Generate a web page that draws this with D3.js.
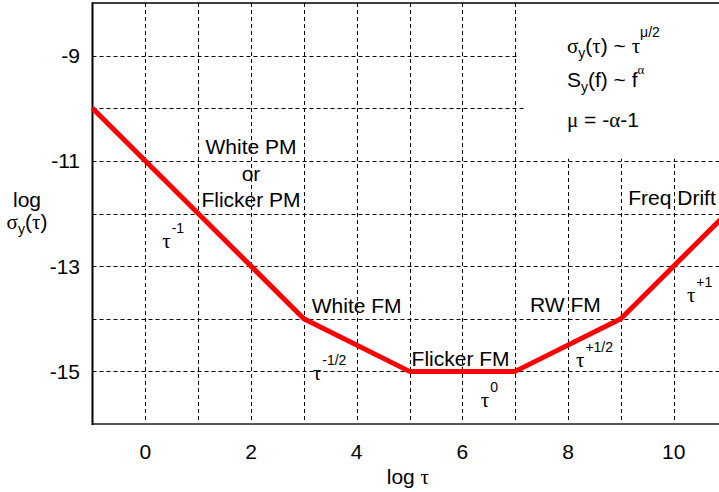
<!DOCTYPE html>
<html><head><meta charset="utf-8">
<script src="https://cdn.jsdelivr.net/npm/d3@7"></script>
<style>
html,body{margin:0;padding:0;background:#fff;}
svg{display:block;}
text{font-family:"Liberation Sans",Arial,sans-serif;fill:#000;}
.g{font-family:"Liberation Serif","Times New Roman",serif;}
</style></head>
<body>
<svg id="c" width="719" height="492"></svg>
<script>
// ---- data ----
const logTau   = [-1, 1, 3, 5, 7, 9, 11];
const logSigma = [-10, -12, -14, -15, -15, -14, -12];
const xTickLabels = [0, 2, 4, 6, 8, 10];
const yTickLabels = [-9, -11, -13, -15];
const xGrid = [0, 1, 2, 3, 4, 5, 6, 7, 8, 9, 10];
const yGrid = [-9, -10, -11, -12, -13, -14, -15];
const regionLabels = [
  {x: 2,     y: -10.87, text: "White PM", anchor: "middle"},
  {x: 2,     y: -11.38, text: "or",       anchor: "middle"},
  {x: 2,     y: -11.88, text: "Flicker PM", anchor: "middle"},
  {x: 3.15,  y: -13.90, text: "White FM", anchor: "start"},
  {x: 5.04,  y: -14.89, text: "Flicker FM", anchor: "start"},
  {x: 7.28,  y: -13.87, text: "RW FM", anchor: "start"},
  {x: 9.14,  y: -11.84, text: "Freq Drift", anchor: "start"}
];
const slopeLabels = [
  {x: 0.32, y: -12.66, exp: "-1"},
  {x: 3.17, y: -15.16, exp: "-1/2"},
  {x: 6.35, y: -15.67, exp: "0"},
  {x: 8.15, y: -14.91, exp: "+1/2"},
  {x: 10.25, y: -13.68, exp: "+1"}
];

// ---- chart ----
const svg = d3.select("#c");
const x = d3.scaleLinear().domain([-1, 11]).range([92.5, 726.5]);
const y = d3.scaleLinear().domain([-16, -8]).range([424, 3]);

const grid = svg.append("g").attr("stroke", "#000").attr("stroke-width", 1)
  .attr("stroke-dasharray", "4,3").attr("fill", "none");
grid.selectAll("line.v").data(xGrid).join("line").attr("class", "v")
  .attr("x1", d => Math.round(x(d)) + 0.5).attr("x2", d => Math.round(x(d)) + 0.5)
  .attr("y1", y(-8)).attr("y2", y(-16));
grid.selectAll("line.h").data(yGrid).join("line").attr("class", "h")
  .attr("y1", d => Math.round(y(d)) + 0.5).attr("y2", d => Math.round(y(d)) + 0.5)
  .attr("x1", x(-1)).attr("x2", x(11));

// white box behind formula annotation
svg.append("rect").attr("x", x(7.08)).attr("y", y(-8))
  .attr("width", x(11) - x(7.08)).attr("height", y(-9.9) - y(-8)).attr("fill", "#fff");
svg.append("rect").attr("x", x(7.2)).attr("y", y(-9.9))
  .attr("width", x(11) - x(7.2)).attr("height", y(-10.96) - y(-9.9)).attr("fill", "#fff");

// frame
svg.append("line").attr("x1", x(-1)).attr("x2", 719).attr("y1", y(-8)).attr("y2", y(-8))
  .attr("stroke", "#000").attr("stroke-width", 1.6);
svg.append("line").attr("x1", x(-1) - 0.5).attr("x2", 719).attr("y1", y(-16)).attr("y2", y(-16))
  .attr("stroke", "#555").attr("stroke-width", 2);
svg.append("line").attr("x1", x(-1)).attr("x2", x(-1)).attr("y1", y(-8) - 0.8).attr("y2", y(-16) + 1)
  .attr("stroke", "#000").attr("stroke-width", 2);

// red curve
const pts = logTau.map((t, i) => [t, logSigma[i]]);
svg.append("path").datum(pts)
  .attr("d", d3.line().x(d => x(d[0])).y(d => y(d[1])))
  .attr("fill", "none").attr("stroke", "#ff0000").attr("stroke-width", 5)
  .attr("stroke-linejoin", "round");

// axes tick labels
svg.append("g").selectAll("text").data(xTickLabels).join("text")
  .attr("x", d => x(d)).attr("y", 459).attr("text-anchor", "middle")
  .attr("font-size", 21).text(d => d);
svg.append("g").selectAll("text").data(yTickLabels).join("text")
  .attr("x", 80).attr("y", d => y(d) + 7.5).attr("text-anchor", "end")
  .attr("font-size", 21).text(d => d);

// axis titles
const xt = svg.append("text").attr("x", x(4.97)).attr("y", 484).attr("text-anchor", "middle").attr("font-size", 21);
xt.append("tspan").text("log ");
xt.append("tspan").attr("class", "g").text("τ");

svg.append("text").attr("x", 27).attr("y", 207).attr("text-anchor", "middle").attr("font-size", 21).text("log");
const yt = svg.append("text").attr("x", 27).attr("y", 229).attr("text-anchor", "middle").attr("font-size", 21);
yt.append("tspan").attr("class", "g").text("σ");
yt.append("tspan").attr("font-size", 14).attr("dy", 5).text("y");
yt.append("tspan").attr("dy", -5).text("(");
yt.append("tspan").attr("class", "g").text("τ");
yt.append("tspan").text(")");

// region labels
svg.append("g").selectAll("text").data(regionLabels).join("text")
  .attr("x", d => x(d.x)).attr("y", d => y(d.y)).attr("text-anchor", d => d.anchor)
  .attr("font-size", 21).text(d => d.text);

// slope labels tau^exp
slopeLabels.forEach(d => {
  const t = svg.append("text").attr("x", x(d.x)).attr("y", y(d.y)).attr("font-size", 21);
  t.append("tspan").attr("class", "g").text("τ");
  t.append("tspan").attr("font-size", 14).attr("dy", -15).attr("dx", 1).text(d.exp);
});

// formula annotation
const fx = x(7.98);
const f1 = svg.append("text").attr("x", fx).attr("y", y(-8.95)).attr("font-size", 21);
f1.append("tspan").attr("class", "g").text("σ");
f1.append("tspan").attr("font-size", 14).attr("dy", 5).text("y");
f1.append("tspan").attr("dy", -5).text("(");
f1.append("tspan").attr("class", "g").text("τ");
f1.append("tspan").text(") ~ ");
f1.append("tspan").attr("class", "g").text("τ");
f1.append("tspan").attr("font-size", 14).attr("dy", -16).text("μ/2");

const f2 = svg.append("text").attr("x", fx).attr("y", y(-9.6)).attr("font-size", 21);
f2.append("tspan").text("S");
f2.append("tspan").attr("font-size", 14).attr("dy", 5).text("y");
f2.append("tspan").attr("dy", -5).text("(f) ~ f");
f2.append("tspan").attr("class", "g").attr("font-size", 13).attr("dy", -13).text("α");

const f3 = svg.append("text").attr("x", fx).attr("y", y(-10.36)).attr("font-size", 21);
f3.append("tspan").attr("class", "g").text("μ");
f3.append("tspan").text(" = -");
f3.append("tspan").attr("class", "g").text("α");
f3.append("tspan").text("-1");
</script>
</body></html>
